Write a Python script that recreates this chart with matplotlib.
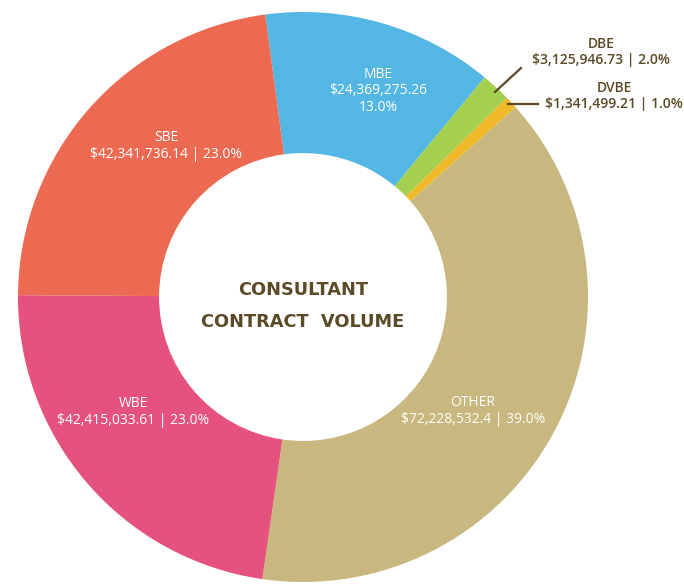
import matplotlib.pyplot as plt

labels = ["MBE", "DBE", "DVBE", "OTHER", "WBE", "SBE"]
amounts = [24369275.26, 3125946.73, 1341499.21, 72228532.4, 42415033.61, 42341736.14]
pct_text = ["13.0%", "2.0%", "1.0%", "39.0%", "23.0%", "23.0%"]
colors = ["#54B6E2", "#A5CF4F", "#F0B92A", "#C8B77E", "#E5527E", "#EC6A52"]

W, H = 684, 584
fig = plt.figure(figsize=(W / 100, H / 100), dpi=100)
ax = fig.add_axes([0, 0, 1, 1])

cx, cy, r = 303, H - 297, 285
ax.pie(amounts, colors=colors, startangle=97.6, counterclock=False,
       center=(cx, cy), radius=r, wedgeprops=dict(width=r * 0.495, linewidth=0))
ax.set_xlim(0, W)
ax.set_ylim(0, H)
ax.set_aspect("equal")
ax.axis("off")

font = "Open Sans"
brown = "#5B4A26"
fs = 10

def label_text(i):
    return f"{labels[i]}\n${amounts[i]:,.2f} | {pct_text[i]}".replace(".40 |", ".4 |")

# inside labels (white), positions in pixel coords from top
inside = {
    0: ((378, 91), f"MBE\n${amounts[0]:,.2f}\n{pct_text[0]}"),
    3: ((473, 411), label_text(3)),
    4: ((133, 412), label_text(4)),
    5: ((166, 146), label_text(5)),
}
for i, ((x, y), txt) in inside.items():
    ax.text(x, H - y, txt, ha="center", va="center", color="white",
            fontsize=fs, family=font, linespacing=1.1)

# outside labels with leader lines
ax.text(601, H - 52, label_text(1), ha="center", va="center", color=brown,
        fontsize=fs, family=font, fontweight="semibold", linespacing=1.1)
ax.text(614, H - 96, label_text(2), ha="center", va="center", color=brown,
        fontsize=fs, family=font, fontweight="semibold", linespacing=1.1)
ax.plot([495, 521], [H - 92, H - 68], color=brown, lw=1.6)
ax.plot([508, 538], [H - 104, H - 104], color=brown, lw=1.6)

ax.text(cx, H - 290, "CONSULTANT", ha="center", va="center", color=brown,
        fontsize=12.8, family="DejaVu Sans", fontweight="bold")
ax.text(cx, H - 322, "CONTRACT  VOLUME", ha="center", va="center", color=brown,
        fontsize=12.8, family="DejaVu Sans", fontweight="bold")

fig.savefig("out.png", dpi=100)
